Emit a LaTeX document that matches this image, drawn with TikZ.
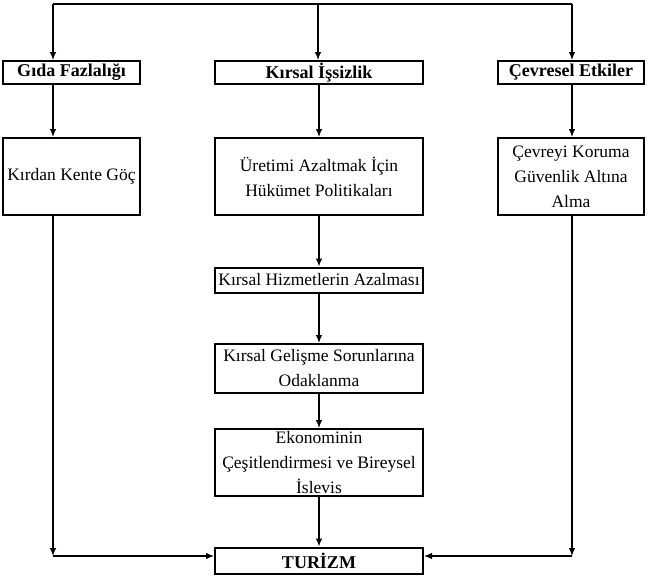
\documentclass[tikz,border=0pt]{standalone}
\usepackage{fontspec}
\setmainfont{Liberation Serif}
\usetikzlibrary{arrows.meta}

\begin{document}
\begin{tikzpicture}[x=1pt,y=-1pt,
  kutu/.style={draw,line width=2pt,inner sep=1pt,align=center,font=\fontsize{17.5}{25}\selectfont},
  baslik/.style={kutu,font=\fontsize{18}{25}\selectfont\bfseries},
  ok/.style={line width=1.1pt,-{Latex[length=8pt,width=6.5pt]}}]
\useasboundingbox (0,0) rectangle (649,584);
\coordinate (TL) at (53,4); \coordinate (TC) at (318,4); \coordinate (TR) at (572,4);
\coordinate (SL) at (53,556); \coordinate (SR) at (572,556);
% ust sira
\node[baslik,minimum width=137,minimum height=23] (gida) at (71.5,72.5) {Gıda Fazlalığı};
\node[baslik,minimum width=208,minimum height=23] (issiz) at (319,72.5) {Kırsal İşsizlik};
\node[baslik,minimum width=146,minimum height=23] (cevre) at (571,72.5) {Çevresel Etkiler};
% ikinci sira
\node[kutu,minimum width=137,minimum height=77] (goc) at (71.5,176.5) {Kırdan Kente Göç};
\node[kutu,minimum width=208,minimum height=77] (uretim) at (319,176.5) {Üretimi Azaltmak İçin\\Hükümet Politikaları};
\node[kutu,minimum width=146,minimum height=77] (koru) at (571,176.5) {Çevreyi Koruma\\Güvenlik Altına\\Alma};
% orta sutun
\node[kutu,minimum width=208,minimum height=25] (hizmet) at (319,280) {Kırsal Hizmetlerin Azalması};
\node[kutu,minimum width=208,minimum height=49] (gelisme) at (319,368.5) {Kırsal Gelişme Sorunlarına\\Odaklanma};
\node[draw,line width=2pt,minimum width=208,minimum height=67] (ekonomi) at (319,462.5) {};
\node[align=center,font=\fontsize{17.5}{25}\selectfont] (ekometin) at (ekonomi.center) {Ekonominin\\Çeşitlendirmesi ve Bireysel\\İslevis};
\node[baslik,minimum width=208,minimum height=26] (turizm) at (319,560.5) {TURİZM};
% oklar
\draw[line width=1.1pt] (TL) -- (TR);
\draw[ok] (TL) -- (TL |- gida.north);
\draw[ok] (TC) -- (TC |- issiz.north);
\draw[ok] (TR) -- (TR |- cevre.north);
\draw[ok] (TL |- gida.south) -- (TL |- goc.north);
\draw[ok] (issiz.south) -- (uretim.north);
\draw[ok] (TR |- cevre.south) -- (TR |- koru.north);
\draw[ok] (uretim.south) -- (hizmet.north);
\draw[ok] (hizmet.south) -- (gelisme.north);
\draw[ok] (gelisme.south) -- (ekonomi.north);
\draw[ok] (ekonomi.south) -- (turizm.north);
\draw[ok] (TL |- goc.south) -- (SL);
\draw[ok] (SL) -- (SL -| turizm.west);
\draw[ok] (TR |- koru.south) -- (SR);
\draw[ok] (SR) -- (SR -| turizm.east);
\end{tikzpicture}
\end{document}
